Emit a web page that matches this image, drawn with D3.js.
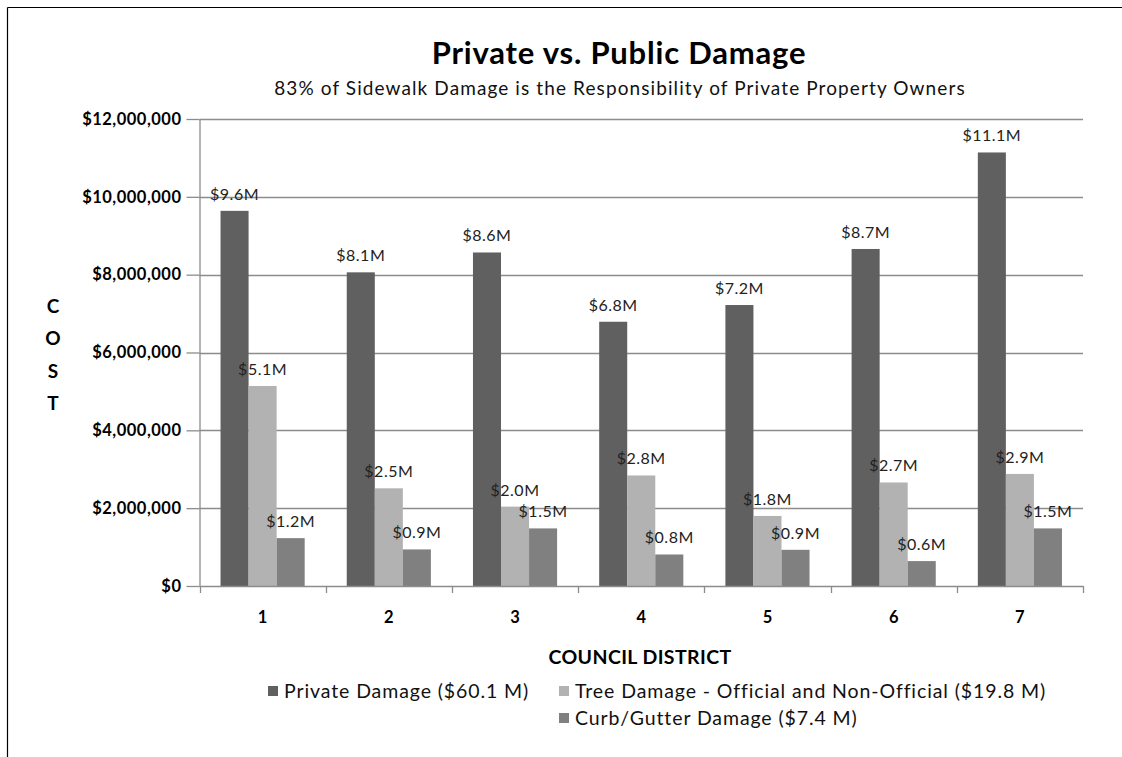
<!DOCTYPE html>
<html><head><meta charset="utf-8">
<script src="https://cdn.jsdelivr.net/npm/d3@7"></script>
<style>
html,body{margin:0;padding:0;background:#fff;}
svg text{font-family:Lato,"Open Sans",sans-serif;}
</style></head>
<body><svg id="chart" width="1122" height="757"></svg>
<script>
const districts = ["1","2","3","4","5","6","7"];
const seriesNames = ["Private Damage ($60.1 M)","Tree Damage - Official and Non-Official ($19.8 M)","Curb/Gutter Damage ($7.4 M)"];
const privateDamage = [9.64, 8.06, 8.57, 6.79, 7.22, 8.66, 11.14];
const treeDamage = [5.14, 2.51, 2.04, 2.84, 1.80, 2.66, 2.88];
const curbDamage = [1.23, 0.94, 1.48, 0.81, 0.93, 0.64, 1.48];
const yTicks = [0, 2000000, 4000000, 6000000, 8000000, 10000000, 12000000];
const colors = ["#606060", "#b2b2b2", "#808080"];
const title = "Private vs. Public Damage";
const subtitle = "83% of Sidewalk Damage is the Responsibility of Private Property Owners";

const series = [privateDamage, treeDamage, curbDamage];
const svg = d3.select("#chart");

// frame
svg.append("line").attr("x1",7.5).attr("x2",1122).attr("y1",7.5).attr("y2",7.5).attr("stroke","#000").attr("stroke-width",1.2);
svg.append("line").attr("x1",7.5).attr("x2",7.5).attr("y1",7.5).attr("y2",757).attr("stroke","#000").attr("stroke-width",1.2);

const L = 199.5, R = 1083, T = 119, B = 586;
const x0 = d3.scaleBand().domain(districts).range([L, R]).paddingInner(1/3).paddingOuter(1/6);
const x1 = d3.scaleBand().domain([0,1,2]).range([0, x0.bandwidth()]);
const y = d3.scaleLinear().domain([0, 12000000]).range([B, T]);

// gridlines
svg.append("g").selectAll("line").data(yTicks.filter(d=>d>0)).join("line")
  .attr("x1", L).attr("x2", R).attr("y1", d=>Math.round(y(d))+0.5).attr("y2", d=>Math.round(y(d))+0.5)
  .attr("stroke","#8c8c8c").attr("stroke-width",1.3);

// bars
const g = svg.append("g");
districts.forEach((dname, i) => {
  series.forEach((arr, s) => {
    const v = arr[i]*1e6;
    g.append("rect")
      .attr("x", x0(dname) + x1(s))
      .attr("y", y(v))
      .attr("width", x1.bandwidth())
      .attr("height", B - y(v))
      .attr("fill", colors[s]);
    g.append("text")
      .attr("x", x0(dname) + x1(s) + x1.bandwidth()/2)
      .attr("y", y(v) - 11)
      .attr("text-anchor","middle")
      .attr("font-size", 16)
      .attr("letter-spacing", 0.5)
      .attr("fill","#222")
      .text("$" + arr[i].toFixed(1) + "M");
  });
});

// y axis
const yAxis = d3.axisLeft(y).tickValues(yTicks).tickSize(13).tickSizeOuter(0)
  .tickFormat(d => "$" + d3.format(",")(d));
const ya = svg.append("g").attr("transform", `translate(${L},0)`).call(yAxis);
ya.select(".domain").attr("stroke","#8c8c8c").attr("stroke-width",1.3);
ya.selectAll(".tick line").attr("stroke","#8c8c8c").attr("stroke-width",1.3);
ya.selectAll(".tick text").attr("x",-18).attr("font-size",16.5).attr("font-weight","bold").attr("fill","#000")
  .attr("letter-spacing",0.5)
  .style("font-family","Lato,sans-serif");

// x axis
const xa = svg.append("g").attr("transform", `translate(0,${B})`);
xa.append("line").attr("x1",L).attr("x2",R).attr("y1",0.5).attr("y2",0.5).attr("stroke","#8c8c8c").attr("stroke-width",1.3);
const bounds = districts.map(d => x0(d) - x0.step()*x0.paddingInner()/2).concat([R]);
xa.selectAll("line.tk").data(bounds).join("line").attr("class","tk")
  .attr("x1", d=>Math.round(d)+0.5).attr("x2", d=>Math.round(d)+0.5).attr("y1",0).attr("y2",7)
  .attr("stroke","#8c8c8c").attr("stroke-width",1.3);
xa.selectAll("text").data(districts).join("text")
  .attr("x", d => x0(d) + x0.bandwidth()/2).attr("y", 37)
  .attr("text-anchor","middle").attr("font-size",16.5).attr("font-weight","bold").text(d=>d);

// titles
svg.append("text").attr("x",619).attr("y",64).attr("text-anchor","middle")
  .attr("font-size",31).attr("font-weight","bold").attr("letter-spacing",0.8).text(title);
svg.append("text").attr("x",620).attr("y",95).attr("text-anchor","middle")
  .attr("font-size",19).attr("letter-spacing",1.1).attr("fill","#111").text(subtitle);
svg.append("text").attr("x",640).attr("y",664).attr("text-anchor","middle")
  .attr("font-size",19.5).attr("letter-spacing",0.4).attr("font-weight","bold").text("COUNCIL DISTRICT");
["C","O","S","T"].forEach((c,i)=>{
  svg.append("text").attr("x",53).attr("y",313 + i*32.3).attr("text-anchor","middle")
    .attr("font-size",19).attr("font-weight","bold").text(c);
});

// legend
const legendPos = [[268,691],[559,691],[559,718]];
seriesNames.forEach((n,i)=>{
  const [lx,ly] = legendPos[i];
  svg.append("rect").attr("x",lx).attr("y",ly-5).attr("width",10).attr("height",10).attr("fill",colors[i]);
  svg.append("text").attr("x",lx+16).attr("y",ly+7).attr("font-size",19.5).attr("letter-spacing",0.9).attr("fill","#111").text(n);
});
</script>
</body></html>
